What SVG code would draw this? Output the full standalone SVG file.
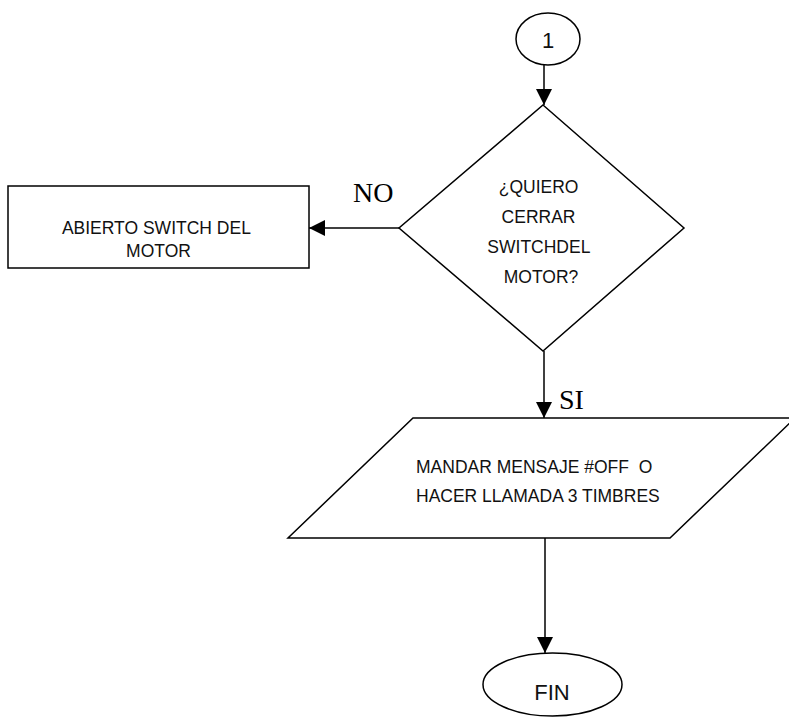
<svg xmlns="http://www.w3.org/2000/svg" width="789" height="718" viewBox="0 0 789 718">
  <defs>
    <marker id="arrow" viewBox="0 0 16 16" refX="16" refY="8" markerWidth="16" markerHeight="16" markerUnits="userSpaceOnUse" orient="auto">
      <path d="M0,0 L16,8 L0,16 Z" fill="#000"/>
    </marker>
  </defs>
  <style>
    .shape { fill: #fff; stroke: #000; stroke-width: 1.5; }
    .edge { fill: none; stroke: #000; stroke-width: 1.5; marker-end: url(#arrow); }
    .txt { font-family: "Liberation Sans", Arial, sans-serif; font-size: 17.5px; fill: #111; }
    .big { font-size: 22px; }
    .lbl { font-family: "Liberation Serif", "Times New Roman", serif; font-size: 28px; fill: #000; }
  </style>
  <rect width="789" height="718" fill="#fff"/>

  <g id="connectors">
    <line class="edge" x1="544" y1="65" x2="544" y2="105"/>
    <line class="edge" x1="399" y1="228" x2="309" y2="228"/>
    <line class="edge" x1="544" y1="351" x2="544" y2="418"/>
    <line class="edge" x1="545" y1="538" x2="545" y2="653"/>
    <text class="lbl" x="353" y="202">NO</text>
    <text class="lbl" x="559" y="409">SI</text>
  </g>

  <g id="start">
    <ellipse class="shape" cx="548" cy="39" rx="32" ry="26"/>
    <text class="txt big" x="548" y="48" text-anchor="middle">1</text>
  </g>

  <g id="decision">
    <polygon class="shape" points="543,105 684,228 543,351 399,228"/>
    <text class="txt" text-anchor="middle">
      <tspan x="541" y="193">¿QUIERO</tspan>
      <tspan x="541" y="223">CERRAR</tspan>
      <tspan x="541" y="253">SWITCHDEL</tspan>
      <tspan x="541" y="283">MOTOR?</tspan>
    </text>
  </g>

  <g id="open-switch">
    <rect class="shape" x="8" y="186" width="301" height="82"/>
    <text class="txt" text-anchor="middle">
      <tspan x="158.5" y="234">ABIERTO SWITCH DEL</tspan>
      <tspan x="158.5" y="257">MOTOR</tspan>
    </text>
  </g>

  <g id="send-message">
    <polygon class="shape" points="413,418 795,418 670,538 288,538"/>
    <text class="txt" xml:space="preserve">
      <tspan x="416" y="473">MANDAR MENSAJE #OFF  O</tspan>
      <tspan x="416" y="502">HACER LLAMADA 3 TIMBRES</tspan>
    </text>
  </g>

  <g id="end">
    <ellipse class="shape" cx="552.5" cy="684.5" rx="69.5" ry="31.5"/>
    <text class="txt big" x="552" y="700" text-anchor="middle">FIN</text>
  </g>
</svg>
